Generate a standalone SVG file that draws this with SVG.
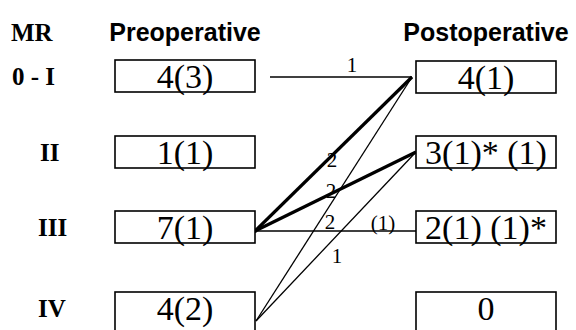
<svg xmlns="http://www.w3.org/2000/svg" width="576" height="330" viewBox="0 0 576 330">
<style>
.hdr{font-family:"Liberation Sans",Arial,sans-serif;font-weight:bold;font-size:25px;fill:#000}
.row{font-family:"Liberation Serif","Times New Roman",serif;font-weight:bold;font-size:25px;fill:#000}
.box rect{fill:#fff;stroke:#000;stroke-width:1.6}
.box text{font-family:"Liberation Serif","Times New Roman",serif;font-size:34px;fill:#000}
.thin{stroke:#000;stroke-width:1.3;fill:none}
.thick{stroke:#000;stroke-width:3.2;fill:none}
.lbl{font-family:"Liberation Serif","Times New Roman",serif;font-size:21px;fill:#000}
</style>
<rect width="576" height="330" fill="#fff"/>
<g id="headers">
<text class="row" x="11" y="41">MR</text>
<text class="hdr" x="185" y="41" text-anchor="middle">Preoperative</text>
<text class="hdr" x="486" y="41" text-anchor="middle">Postoperative</text>
</g>
<g id="rowlabels">
<text class="row" x="12" y="85">0 - I</text>
<text class="row" x="40" y="161">II</text>
<text class="row" x="38" y="236">III</text>
<text class="row" x="38" y="317">IV</text>
</g>
<g id="connectors">
<line class="thin" x1="270" y1="77" x2="412" y2="77"/>
<line class="thick" x1="255" y1="231" x2="412" y2="77"/>
<line class="thick" x1="255" y1="231" x2="416" y2="152"/>
<line class="thin" x1="255" y1="231" x2="416" y2="231"/>
<line class="thin" x1="256" y1="321" x2="412" y2="77"/>
<line class="thin" x1="256" y1="321" x2="416" y2="152"/>
<circle cx="255" cy="231" r="2"/>
<text class="lbl" x="352" y="72" text-anchor="middle">1</text>
<text class="lbl" x="332" y="167" text-anchor="middle">2</text>
<text class="lbl" x="331" y="198" text-anchor="middle">2</text>
<text class="lbl" x="330" y="229" text-anchor="middle">2</text>
<text class="lbl" x="383" y="230" text-anchor="middle">(1)</text>
<text class="lbl" x="337" y="263" text-anchor="middle">1</text>
</g>
<g id="pre-0I" class="box"><rect x="115" y="60" width="140" height="32"/><text x="185" y="88" text-anchor="middle">4(3)</text></g>
<g id="pre-II" class="box"><rect x="115" y="136" width="140" height="32"/><text x="185" y="164" text-anchor="middle">1(1)</text></g>
<g id="pre-III" class="box"><rect x="115" y="211" width="140" height="32"/><text x="185" y="239" text-anchor="middle">7(1)</text></g>
<g id="pre-IV" class="box"><rect x="115" y="292" width="140" height="40"/><text x="185" y="320" text-anchor="middle">4(2)</text></g>
<g id="post-0I" class="box"><rect x="416" y="61" width="140" height="32"/><text x="486" y="89" text-anchor="middle">4(1)</text></g>
<g id="post-II" class="box"><rect x="416" y="136" width="140" height="32"/><text x="486" y="164" text-anchor="middle">3(1)* (1)</text></g>
<g id="post-III" class="box"><rect x="416" y="211" width="140" height="32"/><text x="486" y="239" text-anchor="middle">2(1) (1)*</text></g>
<g id="post-IV" class="box"><rect x="416" y="292" width="140" height="40"/><text x="486" y="320" text-anchor="middle">0</text></g>
</svg>
